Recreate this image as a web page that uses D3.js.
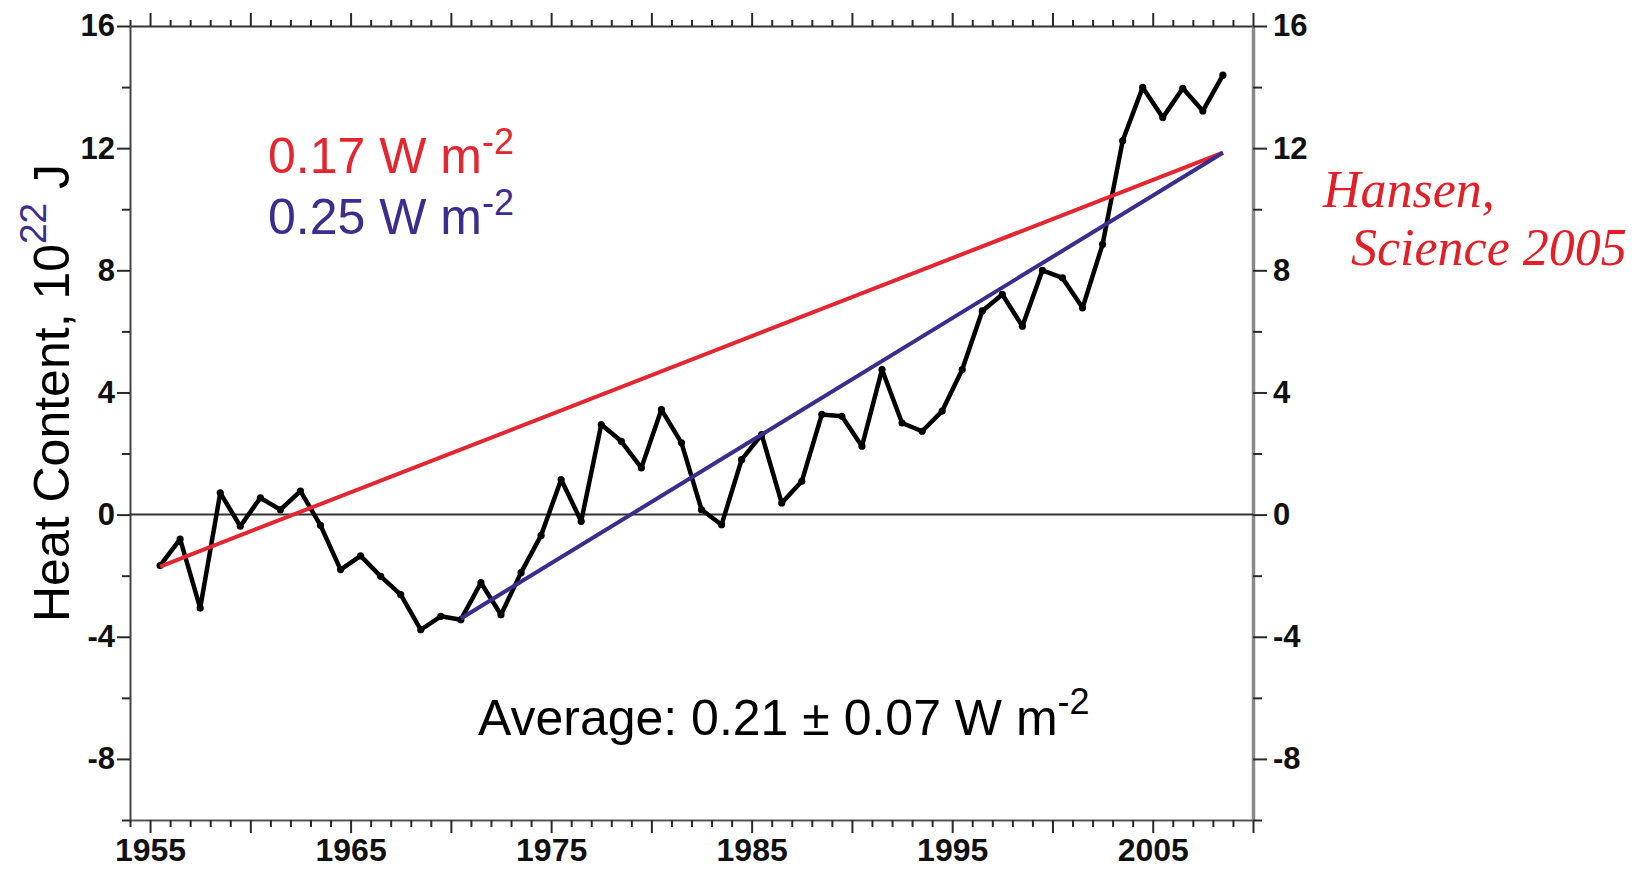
<!DOCTYPE html>
<html>
<head>
<meta charset="utf-8">
<script src="https://cdn.jsdelivr.net/npm/d3@7"></script>
<style>
  html, body { margin: 0; padding: 0; background: #ffffff; }
  svg { display: block; }
</style>
</head>
<body>
<svg id="chart" width="1634" height="870"></svg>
<script>
// Ocean heat content (0-700 m), annual values, 10^22 J
const years = [
  1955.5, 1956.5, 1957.5, 1958.5, 1959.5, 1960.5, 1961.5, 1962.5, 1963.5, 1964.5,
  1965.5, 1966.5, 1967.5, 1968.5, 1969.5, 1970.5, 1971.5, 1972.5, 1973.5, 1974.5,
  1975.5, 1976.5, 1977.5, 1978.5, 1979.5, 1980.5, 1981.5, 1982.5, 1983.5, 1984.5,
  1985.5, 1986.5, 1987.5, 1988.5, 1989.5, 1990.5, 1991.5, 1992.5, 1993.5, 1994.5,
  1995.5, 1996.5, 1997.5, 1998.5, 1999.5, 2000.5, 2001.5, 2002.5, 2003.5, 2004.5,
  2005.5, 2006.5, 2007.5, 2008.5
];
const heatContent = [
  -1.67, -0.80, -3.06,  0.71, -0.38,  0.55,  0.16,  0.77, -0.35, -1.80,
  -1.35, -2.02, -2.62, -3.77, -3.33, -3.44, -2.23, -3.28, -1.90, -0.68,
   1.15, -0.22,  2.95,  2.40,  1.53,  3.44,  2.35,  0.16, -0.33,  1.80,
   2.62,  0.38,  1.09,  3.28,  3.22,  2.24,  4.75,  3.00,  2.73,  3.39,
   4.75,  6.67,  7.21,  6.17,  8.00,  7.75,  6.77,  8.85, 12.24, 13.99,
  13.00, 13.96, 13.22, 14.39
];

// Linear trend segments: [year, heat content]
const trend017 = [[1955.5, -1.70], [2008.5, 11.85]];
const trend025 = [[1970.5, -3.40], [2008.5, 11.85]];

// Tick labels
const xTickLabels = [1955, 1965, 1975, 1985, 1995, 2005];
const yTickLabels = [-8, -4, 0, 4, 8, 12, 16];

const RED = "#e3262f";
const PURPLE = "#3d2b8e";
const SANS = "'Liberation Sans', Arial, Helvetica, sans-serif";

const svg = d3.select("#chart");
svg.append("rect").attr("width", 1634).attr("height", 870).attr("fill", "#ffffff");

const x = d3.scaleLinear().domain([1954, 2010]).range([130, 1253]);
const y = d3.scaleLinear().domain([-10, 16]).range([820, 26]);

const yearTicks = d3.range(1954, 2011);
const heatTicks = d3.range(-10, 17, 2);

function styleAxis(g, domainColor, domainWidth) {
  g.attr("font-size", null).attr("font-family", null);
  g.select(".domain").attr("stroke", domainColor).attr("stroke-width", domainWidth);
  g.selectAll(".tick line").attr("stroke", "#2a2a2a").attr("stroke-width", 2);
  g.selectAll(".tick text")
    .attr("fill", "#111")
    .style("font-family", SANS)
    .style("font-weight", "bold");
}

// Bottom axis: yearly minor ticks, 5-year major ticks, labels every 10 years
const gBottom = svg.append("g")
  .attr("transform", `translate(0,${y(-10)})`)
  .call(d3.axisBottom(x).tickValues(yearTicks).tickSizeInner(13).tickSizeOuter(0)
    .tickPadding(5).tickFormat(d => xTickLabels.includes(d) ? d : ""));
styleAxis(gBottom, "#555", 2);
gBottom.selectAll(".tick line").attr("y2", d => d % 5 === 0 ? 13 : 7);
gBottom.selectAll(".tick text").style("font-size", "32px");

// Top axis: ticks only, pointing outward
const gTop = svg.append("g")
  .attr("transform", `translate(0,${y(16)})`)
  .call(d3.axisTop(x).tickValues(yearTicks).tickSizeInner(13).tickSizeOuter(0)
    .tickFormat(() => ""));
styleAxis(gTop, "#333", 2);
gTop.selectAll(".tick line").attr("y2", d => d % 5 === 0 ? -13 : -6);

// Left axis
const gLeft = svg.append("g")
  .attr("transform", `translate(${x(1954)},0)`)
  .call(d3.axisLeft(y).tickValues(heatTicks).tickSizeInner(13).tickSizeOuter(0)
    .tickPadding(2).tickFormat(d => yTickLabels.includes(d) ? d : ""));
styleAxis(gLeft, "#444", 2);
gLeft.selectAll(".tick line").attr("x2", d => d % 4 === 0 ? -13 : -8);
gLeft.selectAll(".tick text").style("font-size", "31px");

// Right axis
const gRight = svg.append("g")
  .attr("transform", `translate(${x(2010)},0)`)
  .call(d3.axisRight(y).tickValues(heatTicks).tickSizeInner(14).tickSizeOuter(0)
    .tickPadding(6).tickFormat(d => yTickLabels.includes(d) ? d : ""));
styleAxis(gRight, "#8a8a8a", 3.5);
gRight.selectAll(".tick line").attr("x2", d => d % 4 === 0 ? 14 : 9);
gRight.selectAll(".tick text").style("font-size", "31px");

// Zero reference line
svg.append("line")
  .attr("x1", x(1954)).attr("x2", x(2010))
  .attr("y1", y(0)).attr("y2", y(0))
  .attr("stroke", "#333").attr("stroke-width", 2);

// Heat content series
const series = years.map((yr, i) => ({ year: yr, value: heatContent[i] }));
const line = d3.line().x(d => x(d.year)).y(d => y(d.value));

svg.append("path")
  .datum(series)
  .attr("d", line)
  .attr("fill", "none")
  .attr("stroke", "#000")
  .attr("stroke-width", 4.5)
  .attr("stroke-linejoin", "round")
  .attr("stroke-linecap", "round");

svg.append("g").selectAll("circle")
  .data(series)
  .join("circle")
  .attr("cx", d => x(d.year))
  .attr("cy", d => y(d.value))
  .attr("r", 3.6)
  .attr("fill", "#000");

// Trend lines
const trendLine = d3.line().x(d => x(d[0])).y(d => y(d[1]));
svg.append("path").attr("d", trendLine(trend017))
  .attr("fill", "none").attr("stroke", RED).attr("stroke-width", 4);
svg.append("path").attr("d", trendLine(trend025))
  .attr("fill", "none").attr("stroke", PURPLE).attr("stroke-width", 4);

// Flux labels with superscript exponent
function unitLabel(xPos, yPos, value, color) {
  const t = svg.append("text")
    .attr("x", xPos).attr("y", yPos)
    .attr("fill", color)
    .style("font-family", SANS)
    .style("font-size", "50px");
  t.append("tspan").text(value + " W m");
  t.append("tspan").attr("dy", -19).style("font-size", "36px").text("-2");
}

unitLabel(268, 173, "0.17", RED);
unitLabel(268, 234, "0.25", PURPLE);

const avg = svg.append("text")
  .attr("x", 478).attr("y", 735)
  .attr("fill", "#000")
  .style("font-family", SANS)
  .style("font-size", "50px");
avg.append("tspan").text("Average: 0.21 \u00B1 0.07 W m");
avg.append("tspan").attr("dy", -21).style("font-size", "36px").text("-2");

// Axis title
const title = svg.append("text")
  .attr("transform", "translate(69,622) rotate(-90)")
  .attr("fill", "#000")
  .style("font-family", SANS)
  .style("font-size", "50px");
title.append("tspan").text("Heat Content, 10");
title.append("tspan").attr("dy", -23).attr("fill", PURPLE).style("font-size", "37px").text("22");
title.append("tspan").attr("dy", 23).text(" J");

// Citation
const cite = svg.append("text")
  .attr("fill", "#e41e26")
  .style("font-family", "'Liberation Serif', 'Times New Roman', serif")
  .style("font-style", "italic")
  .style("font-size", "52px");
cite.append("tspan").attr("x", 1323).attr("y", 207).text("Hansen,");
cite.append("tspan").attr("x", 1351).attr("y", 265).text("Science 2005");
</script>
</body>
</html>
